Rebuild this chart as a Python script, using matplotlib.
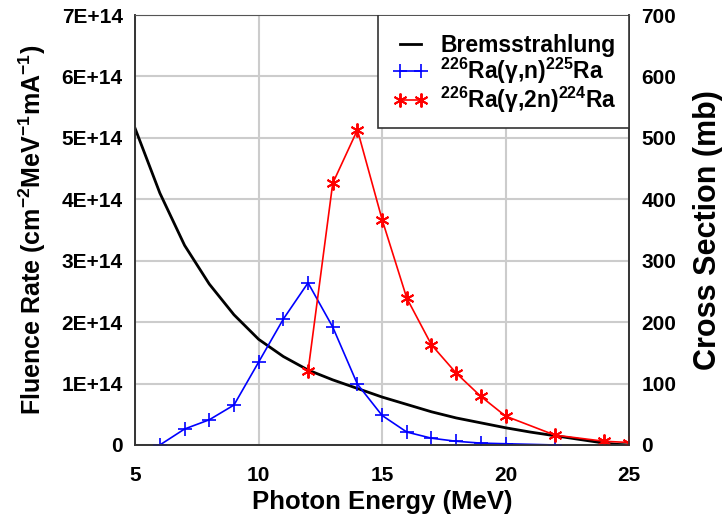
import numpy as np
import matplotlib.pyplot as plt
from matplotlib.lines import Line2D
from matplotlib.patches import Rectangle

# -------------------------------
# data
# -------------------------------
brems_e = [5, 6, 7, 8, 9, 10, 11, 12, 13, 14, 15, 16, 17, 18, 19, 20, 21, 22, 23, 24, 24.5, 25]
brems_rate = [5.15e14, 4.1e14, 3.25e14, 2.62e14, 2.12e14, 1.72e14, 1.44e14, 1.22e14, 1.06e14,
              0.92e14, 0.78e14, 0.66e14, 0.54e14, 0.44e14, 0.36e14, 0.28e14, 0.21e14, 0.15e14,
              0.09e14, 0.03e14, 0.01e14, 0.0]

gn_e = [6, 7, 8, 9, 10, 11, 12, 13, 14, 15, 16, 17, 18, 19, 20, 22]
gn_xs = [0, 26, 41, 65, 135, 205, 264, 192, 99, 48, 21, 11, 6, 3, 2, 0]

g2n_e = [12, 13, 14, 15, 16, 17, 18, 19, 20, 22, 24, 25]
g2n_xs = [120, 426, 513, 367, 239, 163, 117, 79, 47, 16, 6, 4]

left_ticks = [0, 1e14, 2e14, 3e14, 4e14, 5e14, 6e14, 7e14]
left_labels = ["0", "1E+14", "2E+14", "3E+14", "4E+14", "5E+14", "6E+14", "7E+14"]
right_ticks = [0, 100, 200, 300, 400, 500, 600, 700]
x_ticks = [5, 10, 15, 20, 25]

# -------------------------------
# style
# -------------------------------
plt.rcParams['font.family'] = ['Liberation Sans', 'DejaVu Sans']
plt.rcParams['font.weight'] = 'bold'
plt.rcParams['mathtext.fontset'] = 'custom'
plt.rcParams['mathtext.rm'] = 'Liberation Sans:bold'
plt.rcParams['mathtext.it'] = 'Liberation Sans:bold'
plt.rcParams['mathtext.bf'] = 'Liberation Sans:bold'

fig = plt.figure(figsize=(7.23, 5.18), dpi=100)
ax = fig.add_axes([0.187, 0.141, 0.683, 0.830])
ax2 = ax.twinx()

asterisk = (6, 2, 0)

ax.plot(brems_e, brems_rate, color='black', lw=2)
ax2.plot(gn_e, gn_xs, color='blue', lw=1.2, marker='+', ms=10, mew=1.2)
ax2.plot(g2n_e, g2n_xs, color='red', lw=1.2, marker=asterisk, ms=10, mew=1.4)

ax.set_xlim(5, 25)
ax.set_ylim(0, 7e14)
ax2.set_ylim(0, 700)

ax.set_xticks(x_ticks)
ax.set_yticks(left_ticks)
ax.set_yticklabels(left_labels)
ax2.set_yticks(right_ticks)

ax.grid(True, color='#cccccc', lw=1.5)
ax.set_axisbelow(True)

for a in (ax, ax2):
    a.tick_params(length=0, labelsize=15, pad=9)
    for s in a.spines.values():
        s.set_color('#333333')
        s.set_linewidth(1.2)
ax.tick_params(axis='x', pad=15)
ax2.spines['top'].set_color('#555555')
ax2.spines['top'].set_linewidth(0.8)
ax.spines['top'].set_visible(False)

ax.set_xlabel("Photon Energy (MeV)", fontsize=18.5, fontweight='bold', labelpad=4)
ax.set_ylabel("Fluence Rate (cm$^{-2}$MeV$^{-1}$mA$^{-1}$)", fontsize=18, fontweight='bold', labelpad=10)
ax2.set_ylabel("Cross Section (mb)", fontsize=22, fontweight='bold', labelpad=12)

# legend: box drawn separately so the padding matches the original
box = Rectangle((0.492, 0.737), 0.508, 0.263, transform=ax2.transAxes,
                facecolor='white', edgecolor='#333333', lw=1.2, zorder=4)
ax2.add_patch(box)

handles = [
    Line2D([], [], color='black', lw=2),
    Line2D([], [], color='blue', lw=1.2, marker='+', ms=10, mew=1.2),
    Line2D([], [], color='red', lw=1.2, marker=asterisk, ms=10, mew=1.4),
]
labels = ["Bremsstrahlung",
          r"$^{226}$Ra($\gamma$,n)$^{225}$Ra",
          r"$^{226}$Ra($\gamma$,2n)$^{224}$Ra"]
leg = ax2.legend(handles, labels, loc='center right', bbox_to_anchor=(0.976, 0.861),
                 fontsize=16.5, numpoints=2, frameon=False, borderpad=0,
                 borderaxespad=0, handlelength=1.5, handletextpad=0.55,
                 labelspacing=-0.05)
leg.set_zorder(5)

fig.savefig("out.png", dpi=100)
